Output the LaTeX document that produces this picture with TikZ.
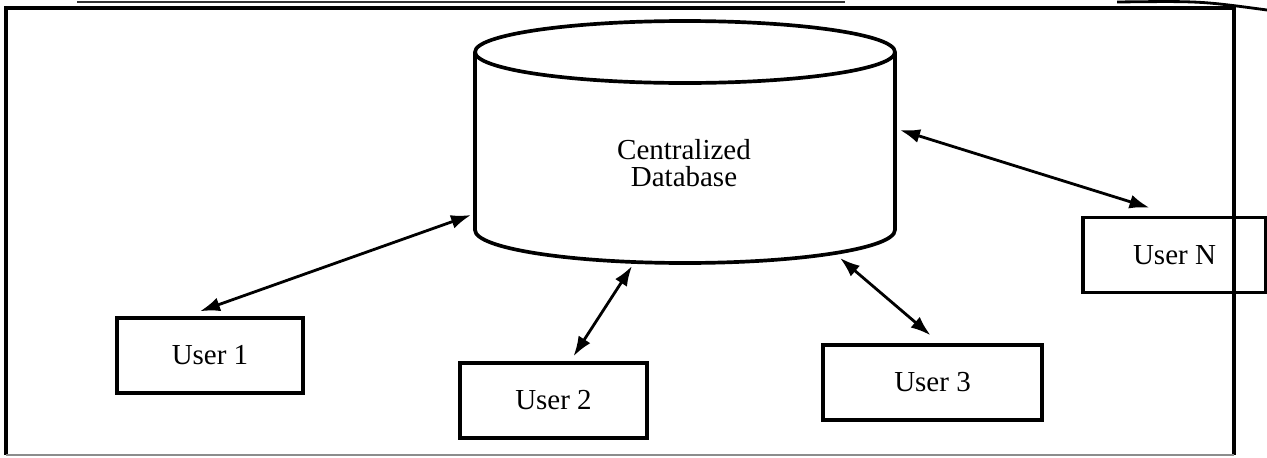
\documentclass[tikz,border=0pt]{standalone}
\usepackage{fontspec}
\setmainfont{Liberation Serif}
\usepackage{tikz}
\usetikzlibrary{arrows.meta}

\begin{document}
\begin{tikzpicture}[x=0.02cm,y=-0.02cm,
        user/.style={draw,line width=2pt,minimum height=1.5cm,inner sep=0pt,
            font=\fontsize{16.5}{18}\selectfont},
        link/.style={arrows={Latex[length=4mm,width=2.8mm]-Latex[length=4mm,width=2.8mm]},
            line width=1.6pt}]
        \useasboundingbox (0,0) rectangle (1267,457);
        % Page frame and stray marks at the top
        \draw[line width=1.1pt,black!80] (77,2) -- (845,2);
        \draw[line width=1.6pt] (1117,2) .. controls (1200,1) .. (1267,10);
        \draw[line width=1.8pt] (6,455) -- (6,8) -- (1234,8) -- (1234,455);
        \draw[line width=1.4pt,black!45] (6,455) -- (1234,455);
        % Database
        \draw[line width=2.1pt] (475,52) -- (475,230)
            arc[start angle=180,end angle=360,x radius=4.2cm,y radius=0.66cm] -- (895,52);
        \draw[line width=2.1pt] (685,52) ellipse[x radius=4.2cm,y radius=0.62cm];
        \node[font=\fontsize{16.5}{15.5}\selectfont,align=center] (db) at (684,163) {Centralized\\Database};
        \coordinate (db-w) at (471,215);
        \coordinate (db-s) at (632,266);
        \coordinate (db-se) at (840,258);
        \coordinate (db-e) at (900,130);
        % Users
        \node[user,minimum width=3.72cm] (u1) at (210,355.5) {User 1};
        \node[user,minimum width=3.74cm] (u2) at (553.5,400.5) {User 2};
        \node[user,minimum width=4.38cm] (u3) at (932.5,382.5) {User 3};
        \node[user,minimum width=3.66cm] (uN) at (1174.5,255) {User N};
        % Links
        \draw[link] ([shift={(-10,-5)}]u1.north) -- (db-w);
        \draw[link] ([shift={(20,-5)}]u2.north) -- (db-s);
        \draw[link] ([shift={(-2,-8)}]u3.north) -- (db-se);
        \draw[link] ([shift={(-25,-8)}]uN.north) -- (db-e);
    \end{tikzpicture}
\end{document}
